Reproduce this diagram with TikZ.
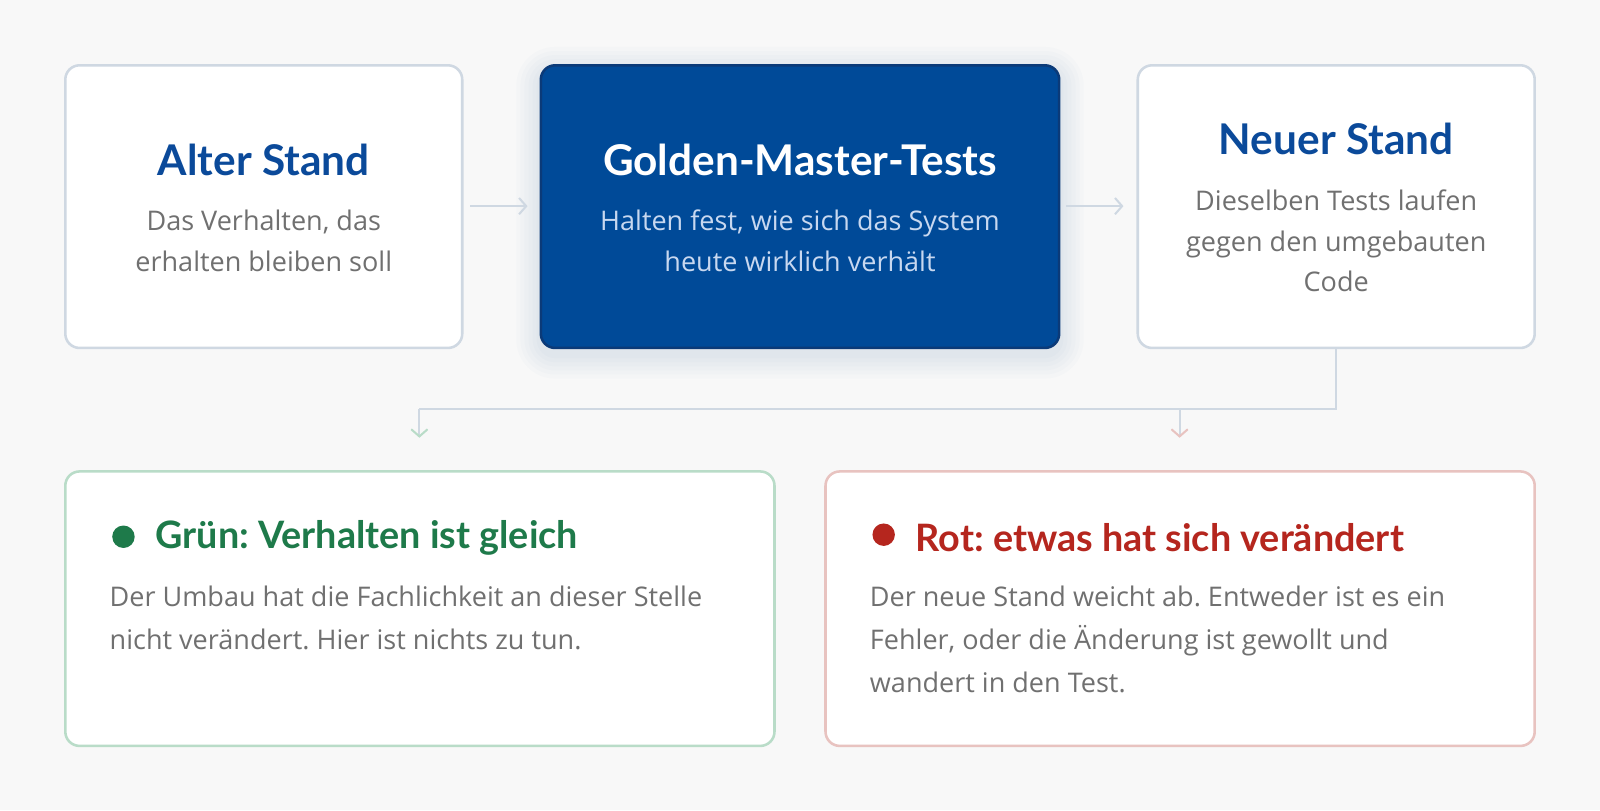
\documentclass[tikz,border=0pt]{standalone}
\usepackage{fontspec}
\setmainfont{Open Sans}
\newfontfamily\lato{Lato}
\usetikzlibrary{arrows.meta}
\definecolor{bg}{HTML}{F8F8F8}
\definecolor{bord}{HTML}{CFD8E2}
\definecolor{navy}{HTML}{004A98}
\definecolor{navyb}{HTML}{0B3A78}
\definecolor{tblue}{HTML}{0B4A9A}
\definecolor{gtext}{HTML}{707070}
\definecolor{gr}{HTML}{1E7A4A}
\definecolor{grb}{HTML}{B9DCC8}
\definecolor{rd}{HTML}{B5261E}
\definecolor{rdb}{HTML}{E8C3C0}
\definecolor{lblue}{HTML}{C8D8F0}
\definecolor{shad}{HTML}{5A7FC0}
\begin{document}
\frenchspacing
\begin{tikzpicture}[x=1pt,y=-1pt,
 box/.style={draw=bord,line width=2.5pt,fill=white,rounded corners=14pt},
 ttl/.style={font=\lato\bfseries\fontsize{41.5}{48}\selectfont\frenchspacing,text=tblue,anchor=center},
 txt/.style={font=\fontsize{26.5}{40}\selectfont\frenchspacing,text=gtext,align=center,anchor=center},
 btxt/.style={font=\fontsize{26.5}{42}\selectfont\frenchspacing,text=gtext,align=left,anchor=north west},
 btl/.style={font=\lato\bfseries\fontsize{37}{44}\selectfont\frenchspacing,anchor=west},
 arr/.style={draw=bord,line width=2pt,-{Straight Barb[length=7pt,width=16pt]}}]
\path[fill=bg] (0,0) rectangle (1568,794);
\path[use as bounding box] (0,0) rectangle (1568,794);
\draw[box] (64,64) rectangle (453,341);
\foreach \d in {24,20,16,12,8,4}{
  \fill[shad,opacity=0.025,rounded corners=14pt+\d pt] (530-\d,64-\d+6) rectangle (1038+\d,341+\d+6);}
\draw[line width=2.5pt,draw=navyb,fill=navy,rounded corners=14pt] (530,64) rectangle (1038,341);
\draw[box] (1115,64) rectangle (1504,341);
\draw[box,draw=grb] (64,462) rectangle (759,731);
\draw[box,draw=rdb] (809,462) rectangle (1504,731);
\node[ttl] (t1) at (258.5,157) {Alter Stand};
\node[txt] (s1) at (258.5,236) {Das Verhalten, das\\erhalten bleiben soll};
\node[ttl,text=white] (t2) at (784,157) {Golden-Master-Tests};
\node[txt,text=lblue] (s2) at (784,236) {Halten fest, wie sich das System\\heute wirklich verhält};
\node[ttl] (t3) at (1309.5,136) {Neuer Stand};
\node[txt] (s3) at (1309.5,236) {Dieselben Tests laufen\\gegen den umgebauten\\Code};
\coordinate (a1) at (461,202); \coordinate (a2) at (517,202);
\coordinate (a3) at (1045,202); \coordinate (a4) at (1101,202);
\draw[arr] (a1) -- (a2);
\draw[arr] (a3) -- (a4);
\coordinate (c0) at (1309,342); \coordinate (c1) at (1309,401);
\coordinate (l1) at (411,401); \coordinate (r1) at (1156,401);
\coordinate (l2) at (411,429); \coordinate (r2) at (1156,429);
\draw[draw=bord,line width=2pt] (c0) -- (c1) -- (l1);
\draw[arr,-{Straight Barb[length=7pt,width=16pt,color=grb]}] (l1) -- (l2);
\draw[arr,-{Straight Barb[length=7pt,width=16pt,color=rdb]}] (r1) -- (r2);
\fill[gr] (121,526) circle (11);
\node[btl,text=gr] (g) at (149,527) {Grün: Verhalten ist gleich};
\node[btxt] (gb) at (104,571) {Der Umbau hat die Fachlichkeit an dieser Stelle\\nicht verändert. Hier ist nichts zu tun.};
\fill[rd] (866,524) circle (11);
\node[btl,text=rd] (r) at (894,527) {Rot: etwas hat sich verändert};
\node[btxt] (rb) at (849,571) {Der neue Stand weicht ab. Entweder ist es ein\\Fehler, oder die Änderung ist gewollt und\\wandert in den Test.};
\end{tikzpicture}
\end{document}
